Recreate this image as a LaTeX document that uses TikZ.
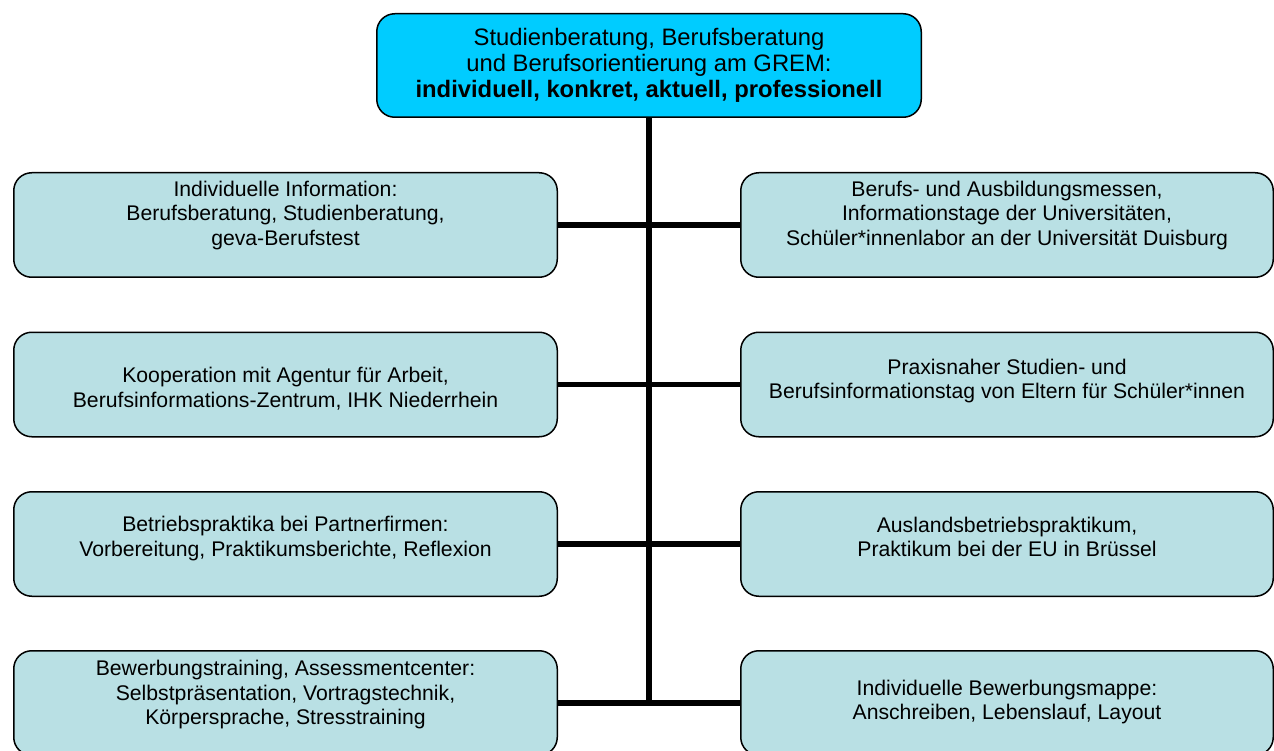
\documentclass[tikz,border=0pt]{standalone}
\usepackage{fontspec}
\setmainfont{Liberation Sans}
\usetikzlibrary{positioning, calc}

\definecolor{topcyan}{RGB}{0,204,255}
\definecolor{boxblue}{RGB}{185,224,228}
% text block of a box, lifted a little as in the original slide
\newcommand{\boxtext}[2][6pt]{\raisebox{#1}[\height][\depth]{\begin{tabular}{@{}c@{}}#2\end{tabular}}}

\begin{document}
\begin{tikzpicture}[
    x=1pt, y=-1pt,
    topbox/.style={rectangle, rounded corners=18pt, draw, line width=1.5pt, fill=topcyan,
      minimum width=544.5pt, minimum height=103.5pt, inner sep=0pt,
      font=\fontsize{23.8}{26}\selectfont},
    infobox/.style={rectangle, rounded corners=18pt, draw, line width=1.5pt, fill=boxblue,
      minimum height=104.5pt, inner sep=0pt, font=\fontsize{21.2}{24.5}\selectfont},
    leftbox/.style={infobox, minimum width=543.5pt},
    rightbox/.style={infobox, minimum width=532.5pt},
    spine/.style={draw, line width=5.5pt},
  ]
  \useasboundingbox (0,0) rectangle (1274,751);

  %% --- Head node (cyan) ---
  \node[topbox] (head) at (649, 65.5) {\boxtext[-0.5pt]{Studienberatung, Berufsberatung \\
    und Berufsorientierung am GREM: \\
    \textbf{individuell, konkret, aktuell, professionell}}};

  %% --- Left column ---
  \node[leftbox] (L1) at (285.5, 225) {\boxtext[9pt]{Individuelle Information: \\
    Berufsberatung, Studienberatung, \\ geva-Berufstest}};
  \node[leftbox] (L2) at (285.5, 384.5) {\boxtext[-5.5pt]{Kooperation mit Agentur für Arbeit, \\
    Berufsinformations-Zentrum, IHK Niederrhein}};
  \node[leftbox] (L3) at (285.5, 544) {\boxtext[5pt]{Betriebspraktika bei Partnerfirmen: \\
    Vorbereitung, Praktikumsberichte, Reflexion}};
  \node[leftbox] (L4) at (285.5, 703) {\boxtext[7.5pt]{Bewerbungstraining, Assessmentcenter: \\
    Selbstpräsentation, Vortragstechnik, \\ Körpersprache, Stresstraining}};

  %% --- Right column ---
  \node[rightbox] (R1) at (1007, 225) {\boxtext[9pt]{Berufs- und Ausbildungsmessen, \\
    Informationstage der Universitäten, \\ Schüler*innenlabor an der Universität Duisburg}};
  \node[rightbox] (R2) at (1007, 384.5) {\boxtext[3pt]{Praxisnaher Studien- und \\
    Berufsinformationstag von Eltern für Schüler*innen}};
  \node[rightbox] (R3) at (1007, 544) {\boxtext[4.5pt]{Auslandsbetriebspraktikum, \\
    Praktikum bei der EU in Brüssel}};
  \node[rightbox] (R4) at (1007, 703) {\boxtext[0.5pt]{Individuelle Bewerbungsmappe: \\
    Anschreiben, Lebenslauf, Layout}};

  %% --- Connectors ---
  \coordinate (foot) at (head.south |- L4.east);
  \draw[spine] (head) -- (foot);
  \draw[spine] (L1) -- (R1);
  \draw[spine] (L2) -- (R2);
  \draw[spine] (L3) -- (R3);
  \draw[spine] (L4) -- (R4);
\end{tikzpicture}
\end{document}
